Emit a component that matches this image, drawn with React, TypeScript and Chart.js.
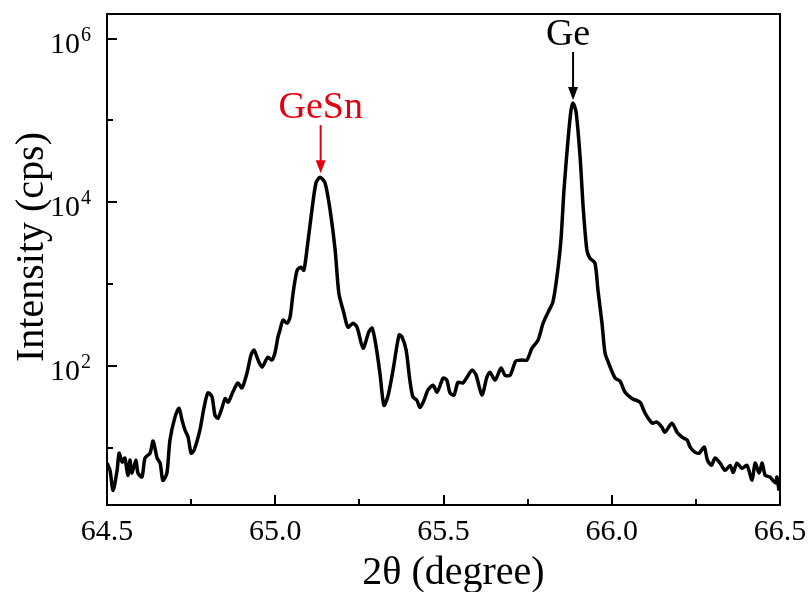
import React, { useEffect, useRef } from "react";
import { Chart, registerables } from "chart.js";

Chart.register(...registerables);

// 2θ (degree)
const twoTheta: number[] = [
  64.5, 64.509, 64.518, 64.53, 64.536, 64.545, 64.553, 64.562, 64.568, 64.574,
  64.586, 64.592, 64.604, 64.613, 64.628, 64.637, 64.649, 64.658, 64.666, 64.678,
  64.687, 64.702, 64.714, 64.723, 64.732, 64.741, 64.75, 64.759, 64.776, 64.788,
  64.8, 64.812, 64.821, 64.83, 64.842, 64.851, 64.86, 64.874, 64.889, 64.901,
  64.916, 64.928, 64.937, 64.949, 64.961, 64.978, 64.99, 64.999, 65.008, 65.014,
  65.023, 65.035, 65.044, 65.053, 65.065, 65.077, 65.085, 65.094, 65.109, 65.121,
  65.133, 65.148, 65.163, 65.178, 65.189, 65.204, 65.216, 65.231, 65.243, 65.261,
  65.278, 65.288, 65.299, 65.311, 65.323, 65.335, 65.35, 65.368, 65.377, 65.389,
  65.4, 65.409, 65.421, 65.43, 65.442, 65.454, 65.469, 65.481, 65.499, 65.51,
  65.519, 65.531, 65.543, 65.558, 65.57, 65.585, 65.597, 65.614, 65.629, 65.638,
  65.653, 65.671, 65.683, 65.698, 65.715, 65.733, 65.748, 65.763, 65.781, 65.796,
  65.811, 65.825, 65.837, 65.849, 65.858, 65.87, 65.879, 65.885, 65.894, 65.906,
  65.915, 65.926, 65.935, 65.95, 65.959, 65.971, 65.98, 65.989, 66.01, 66.025,
  66.039, 66.06, 66.084, 66.099, 66.12, 66.134, 66.149, 66.158, 66.179, 66.194,
  66.209, 66.224, 66.233, 66.248, 66.26, 66.275, 66.284, 66.296, 66.307, 66.322,
  66.337, 66.352, 66.361, 66.372, 66.387, 66.402, 66.417, 66.426, 66.438, 66.447,
  66.456, 66.47, 66.479, 66.488, 66.491, 66.497,
];

// Intensity (cps)
const intensity: number[] = [
  6.5, 5.3, 3.0, 5.3, 8.6, 6.7, 7.5, 4.6, 7.1, 4.9,
  7.1, 4.9, 4.4, 7.5, 8.6, 12.1, 7.5, 6.5, 4.0, 4.9,
  12.4, 23.7, 30.5, 21.8, 16.4, 13.5, 8.6, 9.4, 16.4, 30.5,
  47, 42, 25, 23, 31, 40, 36, 48, 62, 54,
  82, 136, 156, 118, 97, 128, 118, 144, 225, 274,
  363, 333, 395, 776, 1480, 1610, 1480, 2610, 8040, 17200,
  20300, 17200, 8040, 2610, 776, 443, 298, 333, 298, 165,
  260, 290, 180, 82, 33, 43, 89, 240, 225, 156,
  67, 42, 38, 31, 38, 51, 58, 48, 71, 67,
  47, 44, 63, 62, 73, 89, 77, 44, 73, 84,
  67, 94, 77, 77, 115, 118, 118, 165, 207, 333,
  455, 603, 1220, 3450, 14100, 57700, 134000, 163000, 127000, 35700,
  8750, 2610, 2080, 1810, 845, 333, 144, 113, 71, 65,
  48, 40, 36, 26.5, 20, 20.6, 17.9, 15.5, 20, 15.5,
  13.5, 12.4, 10.2, 8.8, 8.6, 10.2, 7.1, 6.1, 7.5, 6.5,
  5.3, 6.1, 5.0, 6.5, 5.6, 6.1, 4.0, 6.5, 4.9, 6.5,
  4.6, 4.4, 4.0, 3.7, 4.4, 3.0,
];

const xMajorTicks: number[] = [64.5, 65.0, 65.5, 66.0, 66.5];
const xTickLabels: string[] = ["64.5", "65.0", "65.5", "66.0", "66.5"];
const xMinorTicks: number[] = [64.75, 65.25, 65.75, 66.25];
const yMajorExponents: number[] = [2, 4, 6];
const yMinorExponents: number[] = [1, 3, 5];

const peakLabels: string[] = ["GeSn", "Ge"];
const peakPositions: number[] = [65.135, 65.885];
const peakTips: number[] = [22700, 178000];
const peakColors: string[] = ["#e3000f", "#000000"];

const SERIF = '"Liberation Serif", "Times New Roman", serif';

const framePlugin = {
  id: "framePlugin",
  afterDraw(chart: any) {
    const ctx = chart.ctx as CanvasRenderingContext2D;
    const { left, right, top, bottom } = chart.chartArea;
    const xs = chart.scales.x;
    const ys = chart.scales.y;
    ctx.save();
    ctx.strokeStyle = "#000";
    ctx.fillStyle = "#000";
    ctx.lineWidth = 2;
    ctx.strokeRect(left, top, right - left, bottom - top);

    // x ticks
    ctx.beginPath();
    xMajorTicks.forEach((v) => {
      const px = Math.round(xs.getPixelForValue(v));
      ctx.moveTo(px, bottom);
      ctx.lineTo(px, bottom - 10);
    });
    xMinorTicks.forEach((v) => {
      const px = Math.round(xs.getPixelForValue(v));
      ctx.moveTo(px, bottom);
      ctx.lineTo(px, bottom - 6);
    });
    // y ticks
    yMajorExponents.forEach((e) => {
      const py = Math.round(ys.getPixelForValue(Math.pow(10, e)));
      ctx.moveTo(left, py);
      ctx.lineTo(left + 10, py);
    });
    yMinorExponents.forEach((e) => {
      const py = Math.round(ys.getPixelForValue(Math.pow(10, e)));
      ctx.moveTo(left, py);
      ctx.lineTo(left + 6, py);
    });
    ctx.stroke();

    // x tick labels
    ctx.font = `30px ${SERIF}`;
    ctx.textAlign = "center";
    ctx.textBaseline = "alphabetic";
    xMajorTicks.forEach((v, i) => {
      const px = xs.getPixelForValue(v);
      ctx.fillText(xTickLabels[i], px, bottom + 35);
    });

    // y tick labels (10^n)
    yMajorExponents.forEach((e) => {
      const py = ys.getPixelForValue(Math.pow(10, e));
      ctx.font = `30px ${SERIF}`;
      ctx.textAlign = "right";
      ctx.fillText("10", left - 27, py + 14);
      ctx.font = `20px ${SERIF}`;
      ctx.textAlign = "left";
      ctx.fillText(String(e), left - 26, py + 2);
    });

    // axis titles
    ctx.font = `40px ${SERIF}`;
    ctx.textAlign = "center";
    ctx.fillText("2θ (degree)", (left + right) / 2 + 10, 584);
    ctx.save();
    ctx.translate(43, 247);
    ctx.rotate(-Math.PI / 2);
    ctx.fillText("Intensity (cps)", 0, 0);
    ctx.restore();

    // peak annotations
    peakLabels.forEach((label, i) => {
      const px = xs.getPixelForValue(peakPositions[i]);
      const tip = ys.getPixelForValue(peakTips[i]);
      const col = peakColors[i];
      ctx.strokeStyle = col;
      ctx.fillStyle = col;
      ctx.lineWidth = 2;
      ctx.beginPath();
      ctx.moveTo(px, tip - 48);
      ctx.lineTo(px, tip - 10);
      ctx.stroke();
      ctx.beginPath();
      ctx.moveTo(px, tip);
      ctx.lineTo(px - 5, tip - 13);
      ctx.lineTo(px + 5, tip - 13);
      ctx.closePath();
      ctx.fill();
      ctx.font = `38px ${SERIF}`;
      ctx.textAlign = "center";
      ctx.fillText(label, px - (i === 1 ? 5 : 0), tip - 55);
    });
    ctx.restore();
  },
};

export default function App() {
  const canvasRef = useRef<HTMLCanvasElement | null>(null);

  useEffect(() => {
    if (!canvasRef.current) return;
    const chart = new Chart(canvasRef.current, {
      type: "line",
      data: {
        datasets: [
          {
            data: twoTheta.map((x, i) => ({ x, y: intensity[i] })),
            borderColor: "#000",
            borderWidth: 3.5,
            pointRadius: 0,
            tension: 0.25,
            fill: false,
          },
        ],
      },
      options: {
        responsive: false,
        animation: false,
        layout: { padding: { left: 107, top: 14, right: 29, bottom: 87 } },
        plugins: {
          legend: { display: false },
          tooltip: { enabled: false },
        },
        scales: {
          x: { type: "linear", min: 64.5, max: 66.5, display: false },
          y: { type: "logarithmic", min: 2, max: 2e6, display: false },
        },
      },
      plugins: [framePlugin],
    });
    return () => chart.destroy();
  }, []);

  return (
    <div style={{ position: "absolute", left: 0, top: 0, width: 809, height: 592, background: "#fff" }}>
      <canvas ref={canvasRef} width={809} height={592} style={{ display: "block" }} />
    </div>
  );
}
